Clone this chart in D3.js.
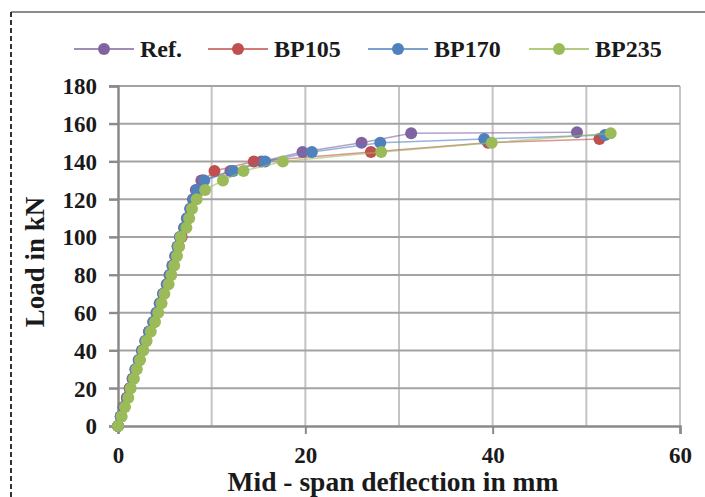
<!DOCTYPE html>
<html>
<head>
<meta charset="utf-8">
<script src="https://cdn.jsdelivr.net/npm/d3@7"></script>
<style>
  body { margin: 0; background: #fff; }
  svg { display: block; }
  text { font-family: "Liberation Serif", "Times New Roman", serif; font-weight: bold; fill: #1a1a1a; }
</style>
</head>
<body>
<div id="chart"></div>
<script>
// loads (kN) - first 26 points shared by all beams (0 .. 125 in 5 kN steps)
var loadsLinear = d3.range(0, 130, 5);

var seriesNames = ["Ref.", "BP105", "BP170", "BP235"];
var seriesColours = ["#8064a2", "#c0504d", "#4f81bd", "#9bbb59"];

var refLoad = loadsLinear.concat([130, 135, 140, 145, 150, 155, 155.5]);
var refDefl = [0, 0.3, 0.6, 0.95, 1.25, 1.55, 1.85, 2.2, 2.55, 2.9, 3.3, 3.75, 4.1, 4.45, 4.8, 5.2, 5.5, 5.8, 6.1, 6.35, 6.6, 7.05, 7.35, 7.7, 8.0, 8.3,
               8.9, 12.0, 15.3, 19.7, 26.0, 31.3, 49.0];

var bp105Load = loadsLinear.concat([130, 135, 140, 145, 150, 152]);
var bp105Defl = [0, 0.3, 0.6, 0.95, 1.25, 1.6, 1.95, 2.3, 2.6, 3.0, 3.4, 3.85, 4.2, 4.55, 4.9, 5.3, 5.6, 5.9, 6.2, 6.5, 6.8, 7.2, 7.5, 7.8, 8.2, 8.8,
                 9.1, 10.3, 14.5, 27.0, 39.5, 51.4];

var bp170Load = loadsLinear.concat([130, 135, 140, 145, 150, 152, 154]);
var bp170Defl = [0, 0.3, 0.65, 1.0, 1.3, 1.6, 1.9, 2.25, 2.6, 2.95, 3.35, 3.8, 4.15, 4.5, 4.85, 5.25, 5.55, 5.85, 6.15, 6.4, 6.65, 7.1, 7.4, 7.75, 8.1, 8.45,
                 9.2, 12.3, 15.7, 20.7, 28.0, 39.1, 52.0];

var bp235Load = loadsLinear.concat([130, 135, 140, 145, 150, 155]);
var bp235Defl = [0, 0.39, 0.75, 1.1, 1.35, 1.7, 2.0, 2.35, 2.7, 3.05, 3.5, 3.95, 4.3, 4.65, 4.95, 5.4, 5.7, 6.0, 6.3, 6.5, 6.7, 7.3, 7.6, 7.9, 8.4, 9.3,
                 11.2, 13.4, 17.6, 28.1, 39.9, 52.6];

var xTicks = [0, 20, 40, 60];
var xGrid = [10, 20, 30, 40, 50, 60];
var yTicks = d3.range(0, 181, 20);

var width = 705, height = 497;
var plot = { left: 118, right: 680, top: 86, bottom: 426 };

var x = d3.scaleLinear().domain([0, 60]).range([plot.left, plot.right]);
var y = d3.scaleLinear().domain([0, 180]).range([plot.bottom, plot.top]);

var svg = d3.select("#chart")
  .append("svg")
  .attr("width", width)
  .attr("height", height);

// outer frame - grey top, dashed left
svg.append("line")
  .attr("x1", 11).attr("x2", width).attr("y1", 12).attr("y2", 12)
  .style("stroke", "#8c8c8c").style("stroke-width", 2);
svg.append("line")
  .attr("x1", 11).attr("x2", 11).attr("y1", 12).attr("y2", height)
  .style("stroke", "#333").style("stroke-width", 2)
  .style("stroke-dasharray", "5,3");

// gridlines
svg.append("g")
  .selectAll("line")
  .data(xGrid)
  .enter()
  .append("line")
  .attr("x1", function (d) { return x(d); })
  .attr("x2", function (d) { return x(d); })
  .attr("y1", plot.top)
  .attr("y2", plot.bottom)
  .style("stroke", "#c4c4c4")
  .style("stroke-width", 2);

svg.append("g")
  .selectAll("line")
  .data(yTicks.filter(function (d) { return d > 0; }))
  .enter()
  .append("line")
  .attr("x1", plot.left - 9)
  .attr("x2", plot.right)
  .attr("y1", function (d) { return y(d); })
  .attr("y2", function (d) { return y(d); })
  .style("stroke", "#a3a3a3")
  .style("stroke-width", 2);

// axes
var xAxis = svg.append("g")
  .attr("transform", "translate(0," + plot.bottom + ")")
  .call(d3.axisBottom(x).tickValues(xTicks).tickSize(8).tickPadding(13));
var yAxis = svg.append("g")
  .attr("transform", "translate(" + plot.left + ",0)")
  .call(d3.axisLeft(y).tickValues(yTicks).tickSize(9).tickPadding(12));

[xAxis, yAxis].forEach(function (a) {
  a.select(".domain").style("stroke", "#8a8a8a").style("stroke-width", 2.5);
  a.selectAll(".tick line").style("stroke", "#8a8a8a").style("stroke-width", 2);
  a.selectAll("text")
    .style("font-family", "'Liberation Serif', serif")
    .style("font-weight", "bold")
    .style("font-size", "23px")
    .style("fill", "#1a1a1a");
});
xAxis.selectAll(".tick text").attr("dy", "0.71em");
yAxis.selectAll(".tick text").attr("dy", "0.34em");

// series
var seriesData = [
  { name: seriesNames[0], colour: seriesColours[0], load: refLoad, defl: refDefl },
  { name: seriesNames[1], colour: seriesColours[1], load: bp105Load, defl: bp105Defl },
  { name: seriesNames[2], colour: seriesColours[2], load: bp170Load, defl: bp170Defl },
  { name: seriesNames[3], colour: seriesColours[3], load: bp235Load, defl: bp235Defl }
];

var line = d3.line()
  .x(function (p) { return x(p[0]); })
  .y(function (p) { return y(p[1]); });

seriesData.forEach(function (s) {
  var pts = s.defl.map(function (v, i) { return [v, s.load[i]]; });
  var g = svg.append("g");

  g.append("path")
    .datum(pts)
    .attr("d", line)
    .style("fill", "none")
    .style("stroke", s.colour)
    .style("stroke-opacity", 0.6)
    .style("stroke-width", 1.5);

  g.selectAll("circle")
    .data(pts)
    .enter()
    .append("circle")
    .attr("cx", function (p) { return x(p[0]); })
    .attr("cy", function (p) { return y(p[1]); })
    .attr("r", 6)
    .style("fill", s.colour);
});

// legend
var legendX = [74, 208, 368, 529];
var legend = svg.append("g")
  .selectAll("g")
  .data(seriesData)
  .enter()
  .append("g")
  .attr("transform", function (d, i) { return "translate(" + legendX[i] + ",49)"; });

legend.append("line")
  .attr("x1", 0).attr("x2", 60)
  .style("stroke", function (d) { return d.colour; })
  .style("stroke-width", 1.5);
legend.append("circle")
  .attr("cx", 30)
  .attr("r", 6)
  .style("fill", function (d) { return d.colour; });
legend.append("text")
  .attr("x", 66)
  .attr("dy", "0.34em")
  .style("font-size", "24px")
  .text(function (d) { return d.name; });

// axis titles
svg.append("text")
  .attr("x", (plot.left + plot.right) / 2 - 6)
  .attr("y", 491)
  .attr("text-anchor", "middle")
  .style("font-size", "27.5px")
  .text("Mid - span deflection in mm");

svg.append("text")
  .attr("transform", "translate(44," + ((plot.top + plot.bottom) / 2 + 6) + ") rotate(-90)")
  .attr("text-anchor", "middle")
  .style("font-size", "27px")
  .text("Load in kN");
</script>
</body>
</html>
